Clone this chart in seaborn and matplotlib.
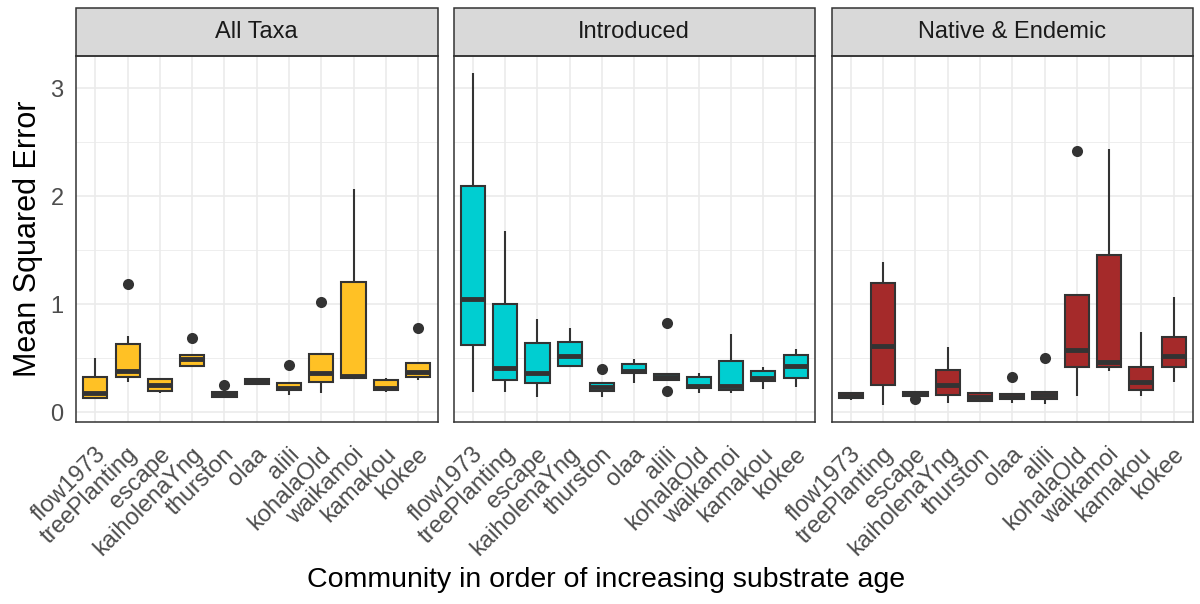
import numpy as np
import pandas as pd
import matplotlib
matplotlib.use("Agg")
import matplotlib.pyplot as plt
import matplotlib.transforms as mtransforms
from matplotlib.patches import Rectangle
from matplotlib.ticker import MultipleLocator
import seaborn as sns

sns.set_theme(style="white")
plt.rcParams["font.family"] = ["Liberation Sans", "DejaVu Sans"]

communities = ["flow1973", "treePlanting", "escape", "kaiholenaYng", "thurston",
               "olaa", "alili", "kohalaOld", "waikamoi", "kamakou", "kokee"]
facets = ["All Taxa", "Introduced", "Native & Endemic"]
fills = ["#FFC125", "#00CED1", "#A52A2A"]

# five-number summaries (whisker low, Q1, median, Q3, whisker high)
all_lo = [0.12, 0.28, 0.18, 0.42, 0.13, 0.26, 0.16, 0.18, 0.32, 0.185, 0.30]
all_q1 = [0.135, 0.33, 0.20, 0.43, 0.145, 0.265, 0.207, 0.283, 0.32, 0.207, 0.324]
all_med = [0.175, 0.38, 0.253, 0.494, 0.167, 0.29, 0.228, 0.364, 0.34, 0.228, 0.377]
all_q3 = [0.325, 0.63, 0.305, 0.528, 0.185, 0.31, 0.275, 0.54, 1.21, 0.30, 0.46]
all_hi = [0.50, 0.71, 0.32, 0.53, 0.19, 0.315, 0.28, 0.54, 2.07, 0.315, 0.46]
all_out = [("treePlanting", 1.185), ("kaiholenaYng", 0.685), ("thurston", 0.253),
           ("alili", 0.438), ("kohalaOld", 1.025), ("kokee", 0.784)]

intro_lo = [0.19, 0.185, 0.139, 0.43, 0.139, 0.268, 0.30, 0.182, 0.182, 0.213, 0.238]
intro_q1 = [0.623, 0.30, 0.268, 0.432, 0.20, 0.361, 0.30, 0.222, 0.207, 0.293, 0.315]
intro_med = [1.05, 0.414, 0.361, 0.525, 0.23, 0.386, 0.33, 0.244, 0.24, 0.315, 0.429]
intro_q3 = [2.10, 1.003, 0.639, 0.651, 0.268, 0.445, 0.352, 0.33, 0.478, 0.386, 0.528]
intro_hi = [3.14, 1.68, 0.861, 0.778, 0.268, 0.49, 0.352, 0.367, 0.722, 0.423, 0.583]
intro_out = [("thurston", 0.40), ("alili", 0.824), ("alili", 0.20)]

native_lo = [0.114, 0.068, 0.154, 0.083, 0.105, 0.09, 0.077, 0.151, 0.386, 0.154, 0.278]
native_q1 = [0.13, 0.253, 0.154, 0.16, 0.105, 0.123, 0.123, 0.423, 0.423, 0.207, 0.423]
native_med = [0.154, 0.614, 0.173, 0.253, 0.145, 0.145, 0.16, 0.577, 0.463, 0.284, 0.522]
native_q3 = [0.176, 1.194, 0.191, 0.392, 0.182, 0.17, 0.191, 1.086, 1.457, 0.423, 0.70]
native_hi = [0.188, 1.395, 0.20, 0.608, 0.182, 0.17, 0.191, 1.086, 2.44, 0.747, 1.071]
native_out = [("escape", 0.123), ("olaa", 0.324), ("alili", 0.506), ("kohalaOld", 2.42)]

summaries = {
    "All Taxa": (all_lo, all_q1, all_med, all_q3, all_hi, all_out),
    "Introduced": (intro_lo, intro_q1, intro_med, intro_q3, intro_hi, intro_out),
    "Native & Endemic": (native_lo, native_q1, native_med, native_q3, native_hi, native_out),
}

rows = []
out_rows = []
for facet, (lo, q1, med, q3, hi, outs) in summaries.items():
    for i, comm in enumerate(communities):
        for v in (lo[i], q1[i], med[i], q3[i], hi[i]):
            rows.append({"Facet": facet, "Community": comm, "MSE": v})
    for comm, v in outs:
        out_rows.append({"Facet": facet, "Community": comm, "MSE": v})
df = pd.DataFrame(rows)
df_out = pd.DataFrame(out_rows)

fig = plt.figure(figsize=(12, 6.04), dpi=100)
W, H = 1200, 604
lefts = [76, 453.5, 831.5]
pw = 361.5
top_px, bot_px = 56, 421.7
strip_px = 48

for k, facet in enumerate(facets):
    ax = fig.add_axes([lefts[k] / W, 1 - bot_px / H, pw / W, (bot_px - top_px) / H])
    sub = df[df["Facet"] == facet]
    sns.boxplot(data=sub, x="Community", y="MSE", order=communities, color=fills[k],
                saturation=1, whis=(0, 100), width=0.75, showfliers=False,
                showcaps=False, linecolor="#333333", linewidth=1.5,
                medianprops=dict(linewidth=3.5, color="#333333"), ax=ax)
    so = df_out[df_out["Facet"] == facet]
    sns.stripplot(data=so, x="Community", y="MSE", order=communities, jitter=False,
                  color="#333333", size=8, ax=ax, zorder=5)

    ax.set_xlim(-0.6, len(communities) - 0.4)
    ax.set_ylim(-0.087, 3.30)
    ax.yaxis.set_major_locator(MultipleLocator(1))
    ax.yaxis.set_minor_locator(MultipleLocator(0.5))
    ax.set_axisbelow(True)
    ax.grid(True, which="major", color="#EBEBEB", linewidth=1.2)
    ax.grid(True, which="minor", axis="y", color="#EBEBEB", linewidth=0.6)
    ax.set_facecolor("white")
    for s in ax.spines.values():
        s.set_color("#333333")
        s.set_linewidth(1.1)
    ax.set_xlabel("")
    ax.set_ylabel("")
    ax.tick_params(axis="x", which="major", length=6, width=1.1, color="#333333",
                   labelsize=17, labelcolor="#4D4D4D", pad=3)
    ax.tick_params(axis="y", which="minor", length=0)
    if k == 0:
        ax.tick_params(axis="y", which="major", length=6, width=1.1, color="#333333",
                       labelsize=17, labelcolor="#4D4D4D", pad=3)
    else:
        ax.tick_params(axis="y", which="major", length=0, labelleft=False)
    ax.set_xticks(range(len(communities)))
    ax.set_xticklabels(communities, rotation=45, ha="right", va="top",
                       rotation_mode="anchor")
    shift = mtransforms.ScaledTranslation(-1 / 100, -9 / 100, fig.dpi_scale_trans)
    for lab in ax.get_xticklabels():
        lab.set_transform(lab.get_transform() + shift)

    # facet strip
    sh = strip_px / (bot_px - top_px)
    ax.add_patch(Rectangle((0, 1), 1, sh, transform=ax.transAxes, clip_on=False,
                           facecolor="#D9D9D9", edgecolor="#333333", linewidth=1.1))
    ax.text(0.5, 1 + sh / 2, facet, transform=ax.transAxes, ha="center", va="center",
            fontsize=17, color="#1A1A1A")

fig.text(28 / W, 1 - 239 / H, "Mean Squared Error", rotation=90, ha="center",
         va="center", fontsize=22, color="black")
fig.text(606 / W, 1 - 580 / H, "Community in order of increasing substrate age",
         ha="center", va="center", fontsize=20.5, color="black")

fig.savefig("out.png", dpi=100, facecolor="white")
